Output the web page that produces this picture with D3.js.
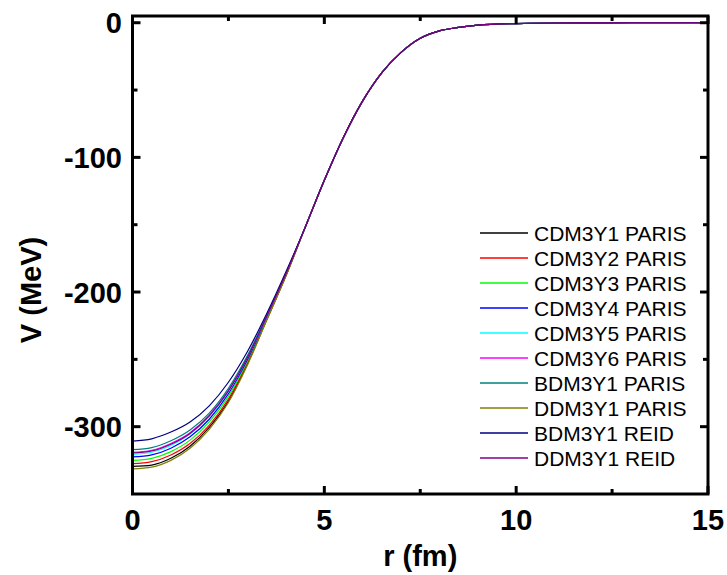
<!DOCTYPE html>
<meta charset="utf-8">
<head>
  <script src="https://d3js.org/d3.v7.min.js"></script>
</head>
<style>
body { margin: 0; background: #fff; }
.tick-label { font-family: "Liberation Sans", Arial, sans-serif; font-weight: bold; font-size: 29px; }
.axis-title { font-family: "Liberation Sans", Arial, sans-serif; font-weight: bold; font-size: 29px; }
.legend-text { font-family: "Liberation Sans", Arial, sans-serif; font-size: 21px; }
</style>
<body>
<svg width="727" height="575" id="container"></svg>
<script>

// radius grid (fm)
var rValues = [0, 0.5, 1, 1.5, 2, 2.5, 3, 3.5, 4, 4.5, 5, 5.5, 6, 6.5, 7, 7.5, 8, 8.5, 9, 10, 11, 12, 13, 14, 15];

// common tail from r = 4.5 fm on (all potentials coincide there)
var tail = [-152, -117, -85, -58, -37, -22, -11.5, -6, -3.5, -1.8, -0.6, -0.2, -0.1, 0, 0, 0];

var seriesNames = ["CDM3Y1 PARIS", "CDM3Y2 PARIS", "CDM3Y3 PARIS", "CDM3Y4 PARIS", "CDM3Y5 PARIS",
                   "CDM3Y6 PARIS", "BDM3Y1 PARIS", "DDM3Y1 PARIS", "BDM3Y1 REID", "DDM3Y1 REID"];
var seriesColors = ["#000000", "#ff0000", "#00ff00", "#0000ff", "#00ffff",
                    "#ff00ff", "#008080", "#808000", "#000080", "#800080"];

// inner part, r = 0 .. 4 fm
var cdm3y1Paris = [-329.5, -328.5, -323.5, -314.5, -300.5, -281, -253, -220.5, -188];
var cdm3y2Paris = [-327.5, -326, -321, -312.5, -299, -279.5, -252, -220, -187.5];
var cdm3y3Paris = [-325, -323.5, -318.5, -310, -296.5, -277.5, -251, -219.5, -187];
var cdm3y4Paris = [-322.5, -321, -316, -307.5, -294.5, -275.5, -250, -219, -187];
var cdm3y5Paris = [-320.5, -319, -314, -305.5, -292.5, -274, -248.5, -218.5, -186.5];
var cdm3y6Paris = [-319, -317.5, -312.5, -304.5, -291.5, -273, -248, -218, -186];
var bdm3y1Paris = [-317, -315.5, -310.5, -302.5, -290, -271.5, -247, -217.5, -186];
var ddm3y1Paris = [-331.3, -330, -325, -316, -302, -282, -254, -221, -188];
var bdm3y1Reid  = [-310.7, -309, -304, -296.5, -284.5, -267, -244, -216, -185];
var ddm3y1Reid  = [-319.5, -318, -313, -305, -292, -273.5, -248.5, -218, -186.5];

var inner = [cdm3y1Paris, cdm3y2Paris, cdm3y3Paris, cdm3y4Paris, cdm3y5Paris,
             cdm3y6Paris, bdm3y1Paris, ddm3y1Paris, bdm3y1Reid, ddm3y1Reid];

var xTicks = [0, 5, 10, 15],
    xMinor = [2.5, 7.5, 12.5],
    yTicks = [0, -100, -200, -300],
    yMinor = [-50, -150, -250];

var svg = d3.select('#container');

var plotLeft = 132.5, plotRight = 708, plotTop = 16, plotBottom = 494;

var xScale = d3.scaleLinear().domain([0, 15]).range([plotLeft, plotRight]),
    yScale = d3.scaleLinear().domain([-350, 5]).range([plotBottom, plotTop]);

var line = d3.line()
  .x(function(d) { return xScale(d.r); })
  .y(function(d) { return yScale(d.v); })
  .curve(d3.curveMonotoneX);

var series = seriesNames.map(function(name, i) {
  var vals = inner[i].concat(tail);
  return {
    name: name,
    color: seriesColors[i],
    points: rValues.map(function(r, j) { return {r: r, v: vals[j]}; })
  };
});

var plot = svg.append('g');
plot.selectAll('path.curve')
  .data(series)
  .enter()
  .append('path')
  .attr('class', 'curve')
  .attr('fill', 'none')
  .attr('stroke', function(d) { return d.color; })
  .attr('stroke-width', 1.2)
  .attr('d', function(d) { return line(d.points); });

// frame
svg.append('rect')
  .attr('x', plotLeft).attr('y', plotTop)
  .attr('width', plotRight - plotLeft).attr('height', plotBottom - plotTop)
  .attr('fill', 'none').attr('stroke', '#000').attr('stroke-width', 3);

// ticks on all four sides, pointing inward
function addXTicks(values, len) {
  values.forEach(function(v) {
    var x = xScale(v);
    svg.append('line').attr('x1', x).attr('x2', x).attr('y1', plotBottom).attr('y2', plotBottom - len)
      .attr('stroke', '#000').attr('stroke-width', 3);
    svg.append('line').attr('x1', x).attr('x2', x).attr('y1', plotTop).attr('y2', plotTop + len)
      .attr('stroke', '#000').attr('stroke-width', 3);
  });
}
function addYTicks(values, len) {
  values.forEach(function(v) {
    var y = yScale(v);
    svg.append('line').attr('x1', plotLeft).attr('x2', plotLeft + len).attr('y1', y).attr('y2', y)
      .attr('stroke', '#000').attr('stroke-width', 3);
    svg.append('line').attr('x1', plotRight).attr('x2', plotRight - len).attr('y1', y).attr('y2', y)
      .attr('stroke', '#000').attr('stroke-width', 3);
  });
}
addXTicks(xTicks, 8);
addXTicks(xMinor, 5);
addYTicks(yTicks, 8);
addYTicks(yMinor, 5);

svg.selectAll('.x-label')
  .data(xTicks)
  .enter()
  .append('text')
  .attr('class', 'tick-label')
  .attr('x', function(d) { return xScale(d); })
  .attr('y', 530)
  .attr('text-anchor', 'middle')
  .text(function(d) { return d; });

svg.selectAll('.y-label')
  .data(yTicks)
  .enter()
  .append('text')
  .attr('class', 'tick-label')
  .attr('x', 122)
  .attr('y', function(d) { return yScale(d) + 10.5; })
  .attr('text-anchor', 'end')
  .text(function(d) { return d; });

svg.append('text')
  .attr('class', 'axis-title')
  .attr('x', (plotLeft + plotRight) / 2)
  .attr('y', 566)
  .attr('text-anchor', 'middle')
  .text('r (fm)');

svg.append('text')
  .attr('class', 'axis-title')
  .attr('transform', 'translate(41,' + 290 + ') rotate(-90)')
  .attr('text-anchor', 'middle')
  .text('V (MeV)');

// legend
var legend = svg.append('g');
series.forEach(function(d, i) {
  var y = 233 + i * 25;
  legend.append('line')
    .attr('x1', 480).attr('x2', 528).attr('y1', y).attr('y2', y)
    .attr('stroke', d.color).attr('stroke-width', 1.5);
  legend.append('text')
    .attr('class', 'legend-text')
    .attr('x', 534)
    .attr('y', y + 7.5)
    .text(d.name);
});

</script>
</body>
